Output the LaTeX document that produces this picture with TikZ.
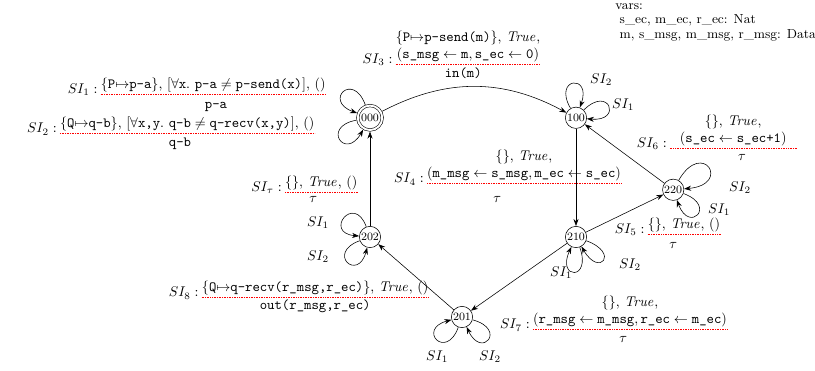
\documentclass[tikz,border=0pt]{standalone}
\usetikzlibrary{arrows.meta}
\begin{document}
\begin{tikzpicture}[>={Stealth[length=5pt,width=3.6pt]},
  state/.style={circle,draw,font=\footnotesize,inner sep=0.5pt,minimum size=15pt},
  bar/.style={red,line width=0.35pt,dash pattern=on 0.5pt off 0.7pt},
  num/.style={align=center,inner sep=0pt,inner ysep=1pt},
  selfloop/.style={->,min distance=9mm}]
  \useasboundingbox (0,0) rectangle (20.375,9.275);
  \node[state,minimum size=17.4pt,double,double distance=1.4pt,outer sep=1.1pt] (s000) at (9.25,6.33) {000};
  \node[state] (s100) at (14.4,6.33) {100};
  \node[state] (s210) at (14.4,3.35) {210};
  \node[state] (s220) at (16.83,4.53) {220};
  \node[state] (s202) at (9.25,3.35) {202};
  \node[state] (s201) at (11.55,1.35) {201};

  \draw[->] (s000) to[bend left=28] (s100);
  \draw[->] (s100) -- (s210);
  \draw[->] (s210) -- (s220);
  \draw[->] (s220) -- (s100);
  \draw[->] (s210) -- (s201);
  \draw[->] (s201) -- (s202);
  \draw[->] (s202) -- (s000);

  \draw[selfloop] (s000) to[out=110,in=160] (s000);
  \draw[selfloop] (s000) to[out=190,in=240] (s000);
  \draw[selfloop] (s100) to[out=120,in=70] (s100);
  \draw[selfloop] (s100) to[out=45,in=-5] (s100);
  \draw[selfloop] (s210) to[out=-70,in=-115] (s210);
  \draw[selfloop] (s210) to[out=-20,in=-60] (s210);
  \draw[selfloop,min distance=12mm] (s220) to[out=60,in=5] (s220);
  \draw[selfloop] (s220) to[out=-20,in=-70] (s220);
  \draw[selfloop] (s202) to[out=110,in=175] (s202);
  \draw[selfloop] (s202) to[out=200,in=255] (s202);
  \draw[selfloop] (s201) to[out=250,in=195] (s201);
  \draw[selfloop] (s201) to[out=-15,in=-65] (s201);

  \node (k100a) at (15.03,7.28) {$SI_2$};
  \node (k100b) at (15.58,6.65) {$SI_1$};
  \node (k210a) at (14.03,2.45) {$SI_1$};
  \node (k210b) at (15.75,2.65) {$SI_2$};
  \node (k220a) at (17.98,4.03) {$SI_1$};
  \node (k220b) at (18.5,4.58) {$SI_2$};
  \node (k202a) at (7.95,3.7) {$SI_1$};
  \node (k202b) at (7.95,2.85) {$SI_2$};
  \node (k201a) at (10.93,0.35) {$SI_1$};
  \node (k201b) at (12.25,0.35) {$SI_2$};

  \node[num,anchor=south] (n1) at (5.33,6.93) {$\{\texttt{P}{\mapsto}\texttt{p-a}\}$, $[\forall\texttt{x}.\ \texttt{p-a}\neq\texttt{p-send(x)}]$, $()$};
  \draw[bar] (n1.south west) -- (n1.south east);
  \node[anchor=base east,inner sep=0pt] (l1) at ([xshift=-2pt]n1.south west) {$SI_1:$};
  \node (d1) at (5.4,6.6) {\texttt{p-a}};

  \node[num,anchor=south] (n2) at (4.68,5.95) {$\{\texttt{Q}{\mapsto}\texttt{q-b}\}$, $[\forall\texttt{x,y}.\ \texttt{q-b}\neq\texttt{q-recv(x,y)}]$, $()$};
  \draw[bar] (n2.south west) -- (n2.south east);
  \node[anchor=base east,inner sep=0pt] (l2) at ([xshift=-2pt]n2.south west) {$SI_2:$};
  \node (d2) at (4.5,5.68) {\texttt{q-b}};

  \node[num,anchor=south] (n3) at (11.7,7.68) {$\{\texttt{P}{\mapsto}\texttt{p-send(m)}\}$, $\mathit{True}$,\\ $(\texttt{s\_msg}\leftarrow\texttt{m},\texttt{s\_ec}\leftarrow\texttt{0})$};
  \draw[bar] (n3.south west) -- (n3.south east);
  \node[anchor=base east,inner sep=0pt] (l3) at ([xshift=-2pt]n3.south west) {$SI_3:$};
  \node (d3) at (11.58,7.45) {\texttt{in(m)}};

  \node[num,anchor=south] (n4) at (13.1,4.7) {$\{\}$, $\mathit{True}$,\\ $(\texttt{m\_msg}\leftarrow\texttt{s\_msg},\texttt{m\_ec}\leftarrow\texttt{s\_ec})$};
  \draw[bar] (n4.south west) -- (n4.south east);
  \node[anchor=base east,inner sep=0pt] (l4) at ([xshift=-2pt]n4.south west) {$SI_4:$};
  \node (d4) at (12.43,4.3) {$\tau$};

  \node[num,anchor=south] (n5) at (17.1,3.43) {$\{\}$, $\mathit{True}$, $()$};
  \draw[bar] (n5.south west) -- (n5.south east);
  \node[anchor=base east,inner sep=0pt] (l5) at ([xshift=-2pt]n5.south west) {$SI_5:$};
  \node (d5) at (16.83,3.15) {$\tau$};

  \node[num,anchor=south,inner xsep=7pt] (n6) at (18.33,5.58) {$\{\}$, $\mathit{True}$,\\ $(\texttt{s\_ec}\leftarrow\texttt{s\_ec+1})$};
  \draw[bar] (n6.south west) -- (n6.south east);
  \node[anchor=base east,inner sep=0pt] (l6) at ([xshift=-2pt]n6.south west) {$SI_6:$};
  \node (d6) at (18.55,5.35) {$\tau$};

  \node[num,anchor=south] (n7) at (15.75,1.05) {$\{\}$, $\mathit{True}$,\\ $(\texttt{r\_msg}\leftarrow\texttt{m\_msg},\texttt{r\_ec}\leftarrow\texttt{m\_ec})$};
  \draw[bar] (n7.south west) -- (n7.south east);
  \node[anchor=base east,inner sep=0pt] (l7) at ([xshift=-2pt]n7.south west) {$SI_7:$};
  \node (d7) at (15.58,0.78) {$\tau$};

  \node[num,anchor=south] (n8) at (7.88,1.85) {$\{\texttt{Q}{\mapsto}\texttt{q-recv(r\_msg,r\_ec)}\}$, $\mathit{True}$, $()$};
  \draw[bar] (n8.south west) -- (n8.south east);
  \node[anchor=base east,inner sep=0pt] (l8) at ([xshift=-2pt]n8.south west) {$SI_8:$};
  \node (d8) at (7.88,1.63) {\texttt{out(r\_msg,r\_ec)}};

  \node[num,anchor=south] (nt) at (8.03,4.48) {$\{\}$, $\mathit{True}$, $()$};
  \draw[bar] (nt.south west) -- (nt.south east);
  \node[anchor=base east,inner sep=0pt] (lt) at ([xshift=-2pt]nt.south west) {$SI_\tau:$};
  \node (dt) at (7.83,4.28) {$\tau$};

  \node[anchor=north west,align=left,inner sep=0pt,font=\fontsize{9.3}{10.5}\selectfont] (vars) at (15.38,9.2) {vars:\\ \hspace*{3pt}s\_ec, m\_ec, r\_ec: Nat\\ \hspace*{3pt}m, s\_msg, m\_msg, r\_msg: Data};
\end{tikzpicture}
\end{document}
